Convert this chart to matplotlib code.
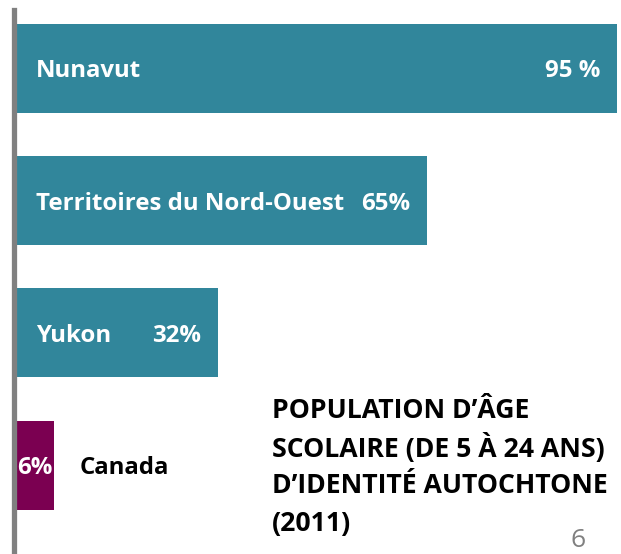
import matplotlib.pyplot as plt
from matplotlib.lines import Line2D

# data
regions = ["Nunavut", "Territoires du Nord-Ouest", "Yukon", "Canada"]
values = [95, 65, 32, 6]
value_labels = ["95 %", "65%", "32%", "6%"]
title_lines = ["POPULATION D\u2019ÂGE", "SCOLAIRE (DE 5 À 24 ANS)",
               "D\u2019IDENTITÉ AUTOCHTONE", "(2011)"]

teal = "#31869B"
purple = "#7B0051"
colors = [teal, teal, teal, purple]

plt.rcParams['font.family'] = ['Open Sans', 'DejaVu Sans']

W, H = 621, 554
fig = plt.figure(figsize=(W / 100, H / 100), dpi=100)
ax = fig.add_axes([16 / W, 0, (617 - 16) / W, 1])
ax.set_xlim(0, 95)
pitch = 132.2
ax.set_ylim((H - 68.5) / pitch, -68.5 / pitch)
ax.axis("off")

ypos = list(range(len(regions)))
ax.barh(ypos, values, height=89 / pitch, color=colors)

px = 95 / 601.0  # data units per pixel
dy = 3 / pitch   # labels sit a little below bar centre
fs = 17.3
for i, (name, v, lab) in enumerate(zip(regions, values, value_labels)):
    if name == "Canada":
        ax.text(v / 2, i + dy, lab, color="white", fontsize=fs, fontweight="bold",
                ha="center", va="center")
        ax.text(64 * px, i + dy, name, color="black", fontsize=fs, fontweight="bold",
                ha="left", va="center")
    else:
        ax.text(20 * px, i + dy, name, color="white", fontsize=fs, fontweight="bold",
                ha="left", va="center")
        ax.text(v - 17 * px, i + dy, lab, color="white", fontsize=fs, fontweight="bold",
                ha="right", va="center")

# left axis line
fig.add_artist(Line2D([13.5 / W, 13.5 / W], [0, 1 - 10 / H], color="#808080",
                      linewidth=3.8, transform=fig.transFigure))

# title block
for k, line in enumerate(title_lines):
    fig.text(272 / W, 1 - (411 + 37.5 * k) / H, line, fontsize=19.2,
             fontweight="bold", color="black", ha="left", va="center")

# slide number
fig.text(578 / W, 1 / H, "6", fontsize=19, color="#808080",
         ha="center", va="bottom")

fig.savefig("out.png", dpi=100)
